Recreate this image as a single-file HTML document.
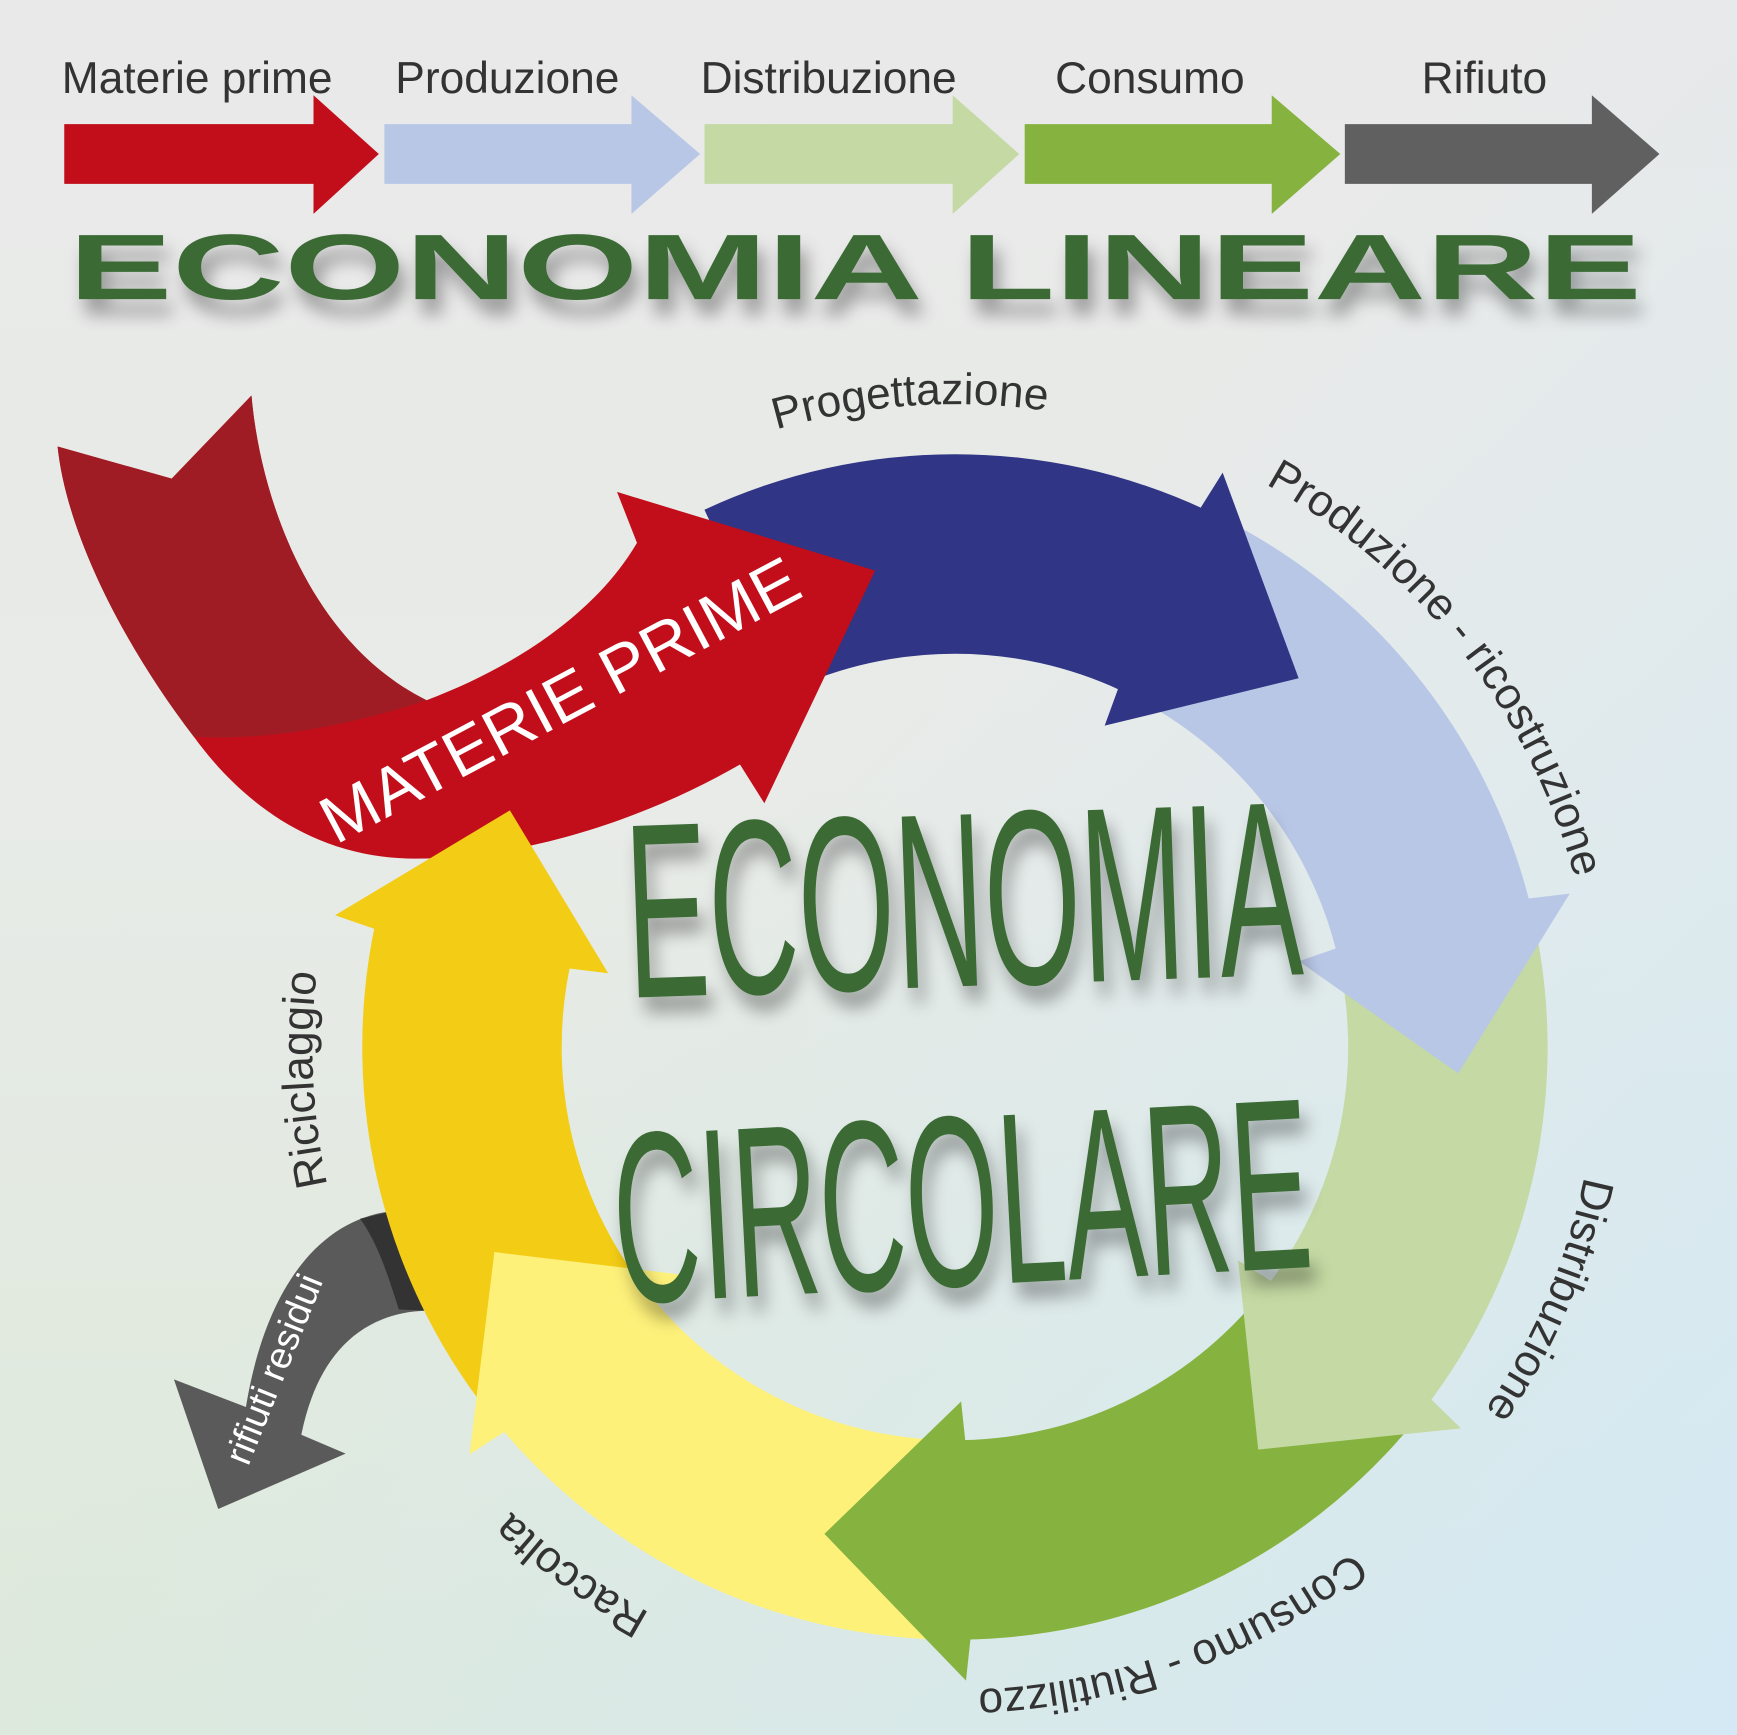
<!DOCTYPE html>
<html><head><meta charset="utf-8">
<style>
html,body{margin:0;padding:0;width:1737px;height:1735px;overflow:hidden}
svg{display:block}
text{font-family:"Liberation Sans",sans-serif}
</style></head>
<body>
<svg id="s" width="1737" height="1735" viewBox="0 0 1568 1566" preserveAspectRatio="none" xmlns="http://www.w3.org/2000/svg">
<defs>
<linearGradient id="bg1" x1="0" y1="0" x2="0" y2="1">
<stop offset="0" stop-color="#e9e9e9"/><stop offset="0.45" stop-color="#e8ebe8"/><stop offset="1" stop-color="#dde9da"/>
</linearGradient>
<linearGradient id="bg2" x1="0" y1="0" x2="1" y2="1">
<stop offset="0.45" stop-color="#d6e9f4" stop-opacity="0"/><stop offset="1" stop-color="#d4e9f5" stop-opacity="1"/>
</linearGradient>
<filter id="sh" x="-20%" y="-20%" width="140%" height="140%">
<feGaussianBlur in="SourceAlpha" stdDeviation="8"/><feOffset dx="6" dy="14"/>
<feComponentTransfer><feFuncA type="linear" slope="0.35"/></feComponentTransfer>
<feMerge><feMergeNode/><feMergeNode in="SourceGraphic"/></feMerge>
</filter>
<path id="lab" d="M1442,945 A580,580 0 1 1 282,945 A580,580 0 1 1 1442,945"/>
</defs>
<rect width="1568" height="1566" fill="url(#bg1)"/>
<rect width="1568" height="1566" fill="url(#bg2)"/>

<polygon points="58,112 283,112 283,86 342,139 283,193 283,166 58,166" fill="#c20e1a"/>
<polygon points="347,112 570,112 570,86 632,139 570,193 570,166 347,166" fill="#b9c7e7"/>
<polygon points="636,112 860,112 860,86 920,139 860,193 860,166 636,166" fill="#c4d9a3"/>
<polygon points="925,112 1148,112 1148,86 1210,139 1148,193 1148,166 925,166" fill="#86b23f"/>
<polygon points="1214,112 1437,112 1437,86 1498,139 1437,193 1437,166 1214,166" fill="#606060"/>
<g font-size="40" fill="#333" text-anchor="middle">
<text x="178" y="84">Materie prime</text>
<text x="458" y="84">Produzione</text>
<text x="748" y="84">Distribuzione</text>
<text x="1038" y="84">Consumo</text>
<text x="1340" y="84">Rifiuto</text>
</g>
<text x="62" y="270" font-size="84" font-weight="bold" fill="#3b6a35" textLength="1420" lengthAdjust="spacingAndGlyphs" filter="url(#sh)">ECONOMIA LINEARE</text>

<path d="M355,1093 C290,1100 240,1160 222,1270 L157,1245 L197,1362 L312,1312 L272,1295 C285,1230 320,1185 385,1183 Z" fill="#5a5a5a"/>
<path d="M325,1100 L355,1093 L385,1183 L360,1182 C350,1150 340,1120 325,1100Z" fill="#333"/>

<g id="bodies"></g>
<path d="M52,403 L155,432 L227,357 C235,450 280,580 385,632 C470,600 540,550 575,490 L557,444 L790,515 L690,725 L668,690 C590,735 480,775 375,775 C280,775 215,720 175,665 C110,580 60,480 52,403 Z" fill="#c20e1a"/>
<path d="M52,403 L155,432 L227,357 C235,450 280,580 385,632 C300,660 230,668 175,665 C110,580 60,480 52,403Z" fill="#a01c24"/>
<g id="heads"></g>

<text transform="translate(515,650) rotate(-28)" font-size="60" fill="#fff" text-anchor="middle" textLength="480" lengthAdjust="spacingAndGlyphs">MATERIE PRIME</text>
<text transform="translate(258,1240) rotate(-68)" font-size="34" fill="#fff" text-anchor="middle">rifiuti residui</text>

<g fill="#3b6a35" filter="url(#sh)">
<text x="565" y="890" font-size="225" textLength="610" lengthAdjust="spacingAndGlyphs" transform="rotate(-2 870 820)">ECONOMIA</text>
<text x="553" y="1160" font-size="220" textLength="630" lengthAdjust="spacingAndGlyphs" transform="rotate(-3 870 1080)">CIRCOLARE</text>
</g>

<g font-size="40" fill="#333" text-anchor="middle">
<text><textPath href="#lab" startOffset="73.9%">Progettazione</textPath></text>
<text><textPath href="#lab" startOffset="89.4%">Produzione - ricostruzione</textPath></text>
<text><textPath href="#lab" startOffset="6.4%">Distribuzione</textPath></text>
<text><textPath href="#lab" startOffset="19.4%">Consumo - Riutilizzo</textPath></text>
<text><textPath href="#lab" startOffset="35%">Raccolta</textPath></text>
<text><textPath href="#lab" startOffset="49.2%">Riciclaggio</textPath></text>
</g>
</svg>
<script>
(function(){
var NS="http://www.w3.org/2000/svg",cx=862,cy=945,R1=355,R2=535,Rm=455,HO=572,HI=320;
function p(a,r){var t=a*Math.PI/180;return (cx+r*Math.cos(t)).toFixed(1)+","+(cy+r*Math.sin(t)).toFixed(1);}
var segs=[["#f3cc15",140,192,208],["#fef17a",89,140,156],["#86b23f",37,89,105],["#c4d9a3",-14,37,53],["#b9c7e7",-65,-14,3],["#303585",-115,-65,-47]];
var b=document.getElementById("bodies"),h=document.getElementById("heads");
segs.forEach(function(s){
 var a1=s[1],a2=s[2],at=s[3];
 var d="M"+p(a1,R2)+" A"+R2+","+R2+" 0 0 1 "+p(a2,R2)+" L"+p(a2,R1)+" A"+R1+","+R1+" 0 0 0 "+p(a1,R1)+"Z";
 var e=document.createElementNS(NS,"path");e.setAttribute("d",d);e.setAttribute("fill",s[0]);b.appendChild(e);
 var hd="M"+p(a2-0.5,R2)+" L"+p(a2,HO)+" L"+p(at,Rm)+" L"+p(a2,HI)+" L"+p(a2-0.5,R1)+"Z";
 var f=document.createElementNS(NS,"path");f.setAttribute("d",hd);f.setAttribute("fill",s[0]);h.appendChild(f);
});
})();
</script>
</body></html>
